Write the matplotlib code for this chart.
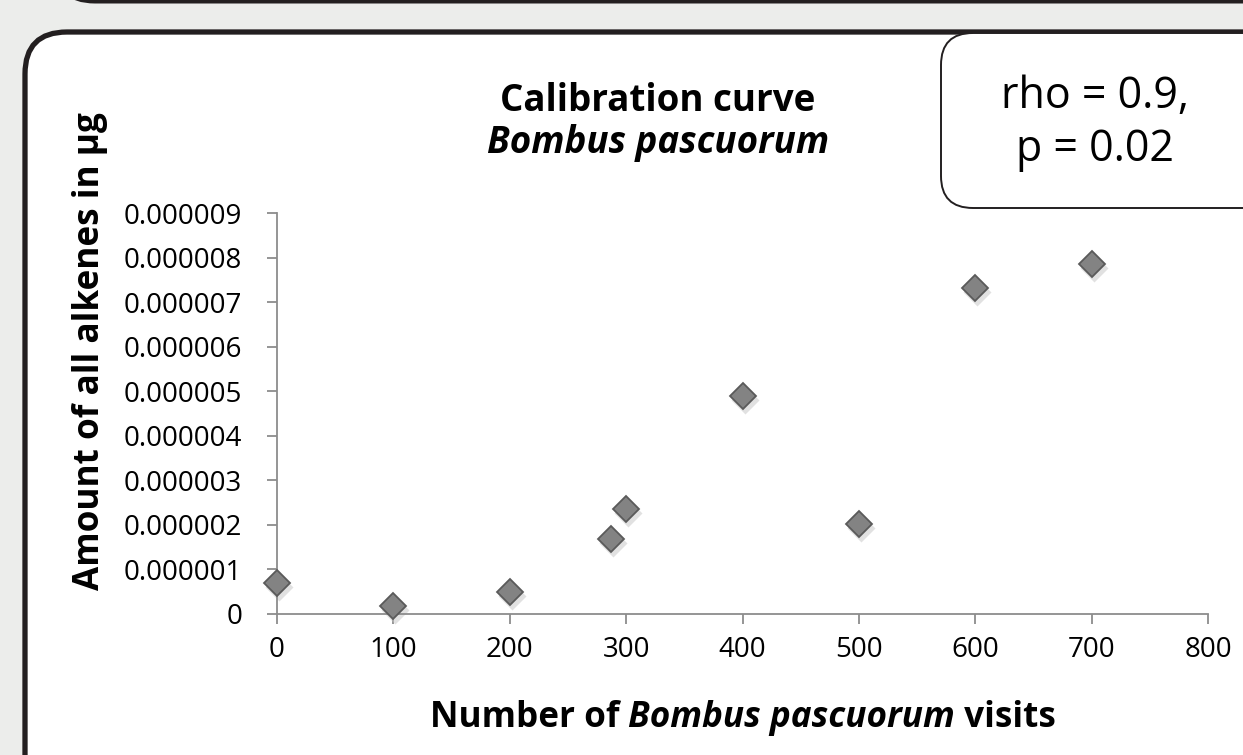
import matplotlib
matplotlib.use('Agg')
import matplotlib.pyplot as plt
import matplotlib.transforms as mtransforms
from matplotlib.patches import FancyBboxPatch

# data
visits = [0, 100, 200, 287, 300, 400, 500, 600, 700]
alkenes = [0.70e-6, 0.18e-6, 0.49e-6, 1.68e-6, 2.36e-6, 4.89e-6, 2.02e-6, 7.32e-6, 7.85e-6]
x_ticks = [0, 100, 200, 300, 400, 500, 600, 700, 800]
y_ticks = [0, 1e-6, 2e-6, 3e-6, 4e-6, 5e-6, 6e-6, 7e-6, 8e-6, 9e-6]
y_tick_labels = ['0', '0.000001', '0.000002', '0.000003', '0.000004',
                 '0.000005', '0.000006', '0.000007', '0.000008', '0.000009']
stats_text = 'rho = 0.9,\np = 0.02'

plt.rcParams['font.family'] = ['Open Sans', 'DejaVu Sans']

W, H = 1243, 755
fig = plt.figure(figsize=(W / 100, H / 100), dpi=100)
fig.patch.set_facecolor('#ECEDEB')
px = mtransforms.IdentityTransform()


def box(x0, y0, x1, y1, r, lw, **kw):
    # pixel coords with top-left origin
    p = FancyBboxPatch((x0, H - y1), x1 - x0, y1 - y0,
                       boxstyle='round,pad=0,rounding_size=%d' % r,
                       transform=px, linewidth=lw, **kw)
    fig.patches.append(p)
    return p


# previous panel edge at top and main panel
box(55, -200, 1400, 1, 40, 3.6, facecolor='white', edgecolor='#231F20')
box(25, 32, 1400, 900, 42, 3.8, facecolor='white', edgecolor='#231F20')
box(941, 33, 1400, 208, 32, 1.4, facecolor='white', edgecolor='#231F20', zorder=3)

ax = fig.add_axes([277 / W, 1 - 614 / H, (1208 - 277) / W, (614 - 213) / H])
ax.set_zorder(5)
ax.set_facecolor('none')
ax.set_xlim(0, 800)
ax.set_ylim(0, 9e-6)

axis_color = '#8C8C8C'
for s in ['top', 'right']:
    ax.spines[s].set_visible(False)
for s in ['left', 'bottom']:
    ax.spines[s].set_color(axis_color)
    ax.spines[s].set_linewidth(1.3)
ax.tick_params(colors=axis_color, length=7, width=1.3, direction='out',
               labelcolor='black', labelsize=20)
ax.tick_params(axis='y', pad=18)
ax.tick_params(axis='x', pad=9)
ax.set_xticks(x_ticks)
ax.set_yticks(y_ticks)
ax.set_yticklabels(y_tick_labels)

# soft shadow under the diamonds
shadow = mtransforms.offset_copy(ax.transData, fig=fig, x=1.5, y=-3, units='points')
ax.plot(visits, alkenes, 'D', ms=14, color='#C4C4C4', alpha=0.5, mec='none',
        transform=shadow, clip_on=False, zorder=2)
ax.plot(visits, alkenes, 'D', ms=13, color='#838383', mec='#5A5A5A', mew=1.3,
        clip_on=False, zorder=3)

# title
fig.text(658 / W, 1 - 101 / H, 'Calibration curve', ha='center', va='center',
         fontsize=26.5, fontweight='bold', zorder=6)
fig.text(658 / W, 1 - 143 / H, 'Bombus pascuorum', ha='center', va='center',
         fontsize=26.5, fontweight='bold', fontstyle='italic', zorder=6)

# y label
fig.text(90 / W, 1 - 351 / H, 'Amount of all alkenes in µg', rotation=90,
         ha='center', va='center', fontsize=25.3, fontweight='bold', zorder=6)

# x label in three pieces
renderer = fig.canvas.get_renderer()
parts = [('Number of ', 'normal'), ('Bombus pascuorum', 'italic'), (' visits', 'normal')]
texts = []
for s, st in parts:
    t = fig.text(0, 1 - 718 / H, s, ha='left', va='center', fontsize=25.3,
                 fontweight='bold', fontstyle=st, zorder=6)
    texts.append(t)
widths = [t.get_window_extent(renderer).width for t in texts]
x = 743 - sum(widths) / 2
for t, w in zip(texts, widths):
    t.set_x(x / W)
    x += w

# stats box text
fig.text(1095 / W, 1 - 123 / H, stats_text, ha='center', va='center',
         multialignment='center', fontsize=31, linespacing=1.25, zorder=6)

fig.savefig('out.png', dpi=100, facecolor=fig.get_facecolor())
